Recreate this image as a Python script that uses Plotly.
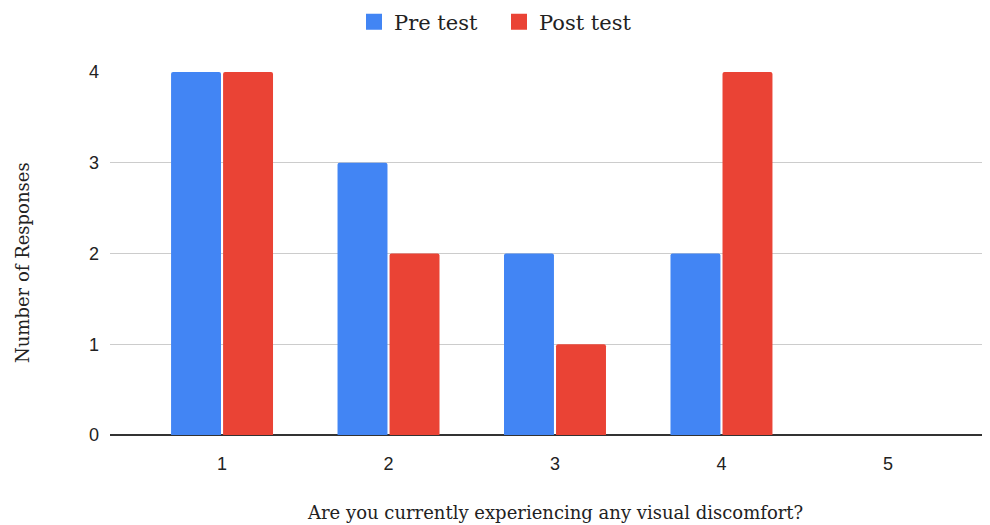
import plotly.graph_objects as go

categories = [1, 2, 3, 4, 5]
pre_test = [4, 3, 2, 2, 0]
post_test = [4, 2, 1, 4, 0]
y_ticks = [0, 1, 2, 3, 4]
series_names = ["Pre test", "Post test"]
series_colors = ["#4285F4", "#EA4335"]
x_title = "Are you currently experiencing any visual discomfort?"
y_title = "Number of Responses"

serif = "DejaVu Serif"
sans = "Liberation Sans"

fig = go.Figure()
for name, vals, col in zip(series_names, [pre_test, post_test], series_colors):
    fig.add_trace(go.Bar(x=categories, y=vals, name=name, showlegend=False,
                         marker=dict(color=col, line=dict(width=0))))
for name, col in zip(series_names, series_colors):
    fig.add_trace(go.Scatter(x=[None], y=[None], name=name, mode="markers",
                             marker=dict(symbol="square", size=18, color=col)))

# page body has an 8px margin: figure is shrunk and shifted accordingly
fig.update_layout(
    width=982, height=517,
    margin=dict(l=102, r=0, t=64, b=90, autoexpand=False),
    paper_bgcolor="white", plot_bgcolor="white",
    barmode="group", bargap=0.375, bargroupgap=0.04,
    barcornerradius=2,
    legend=dict(orientation="h", x=0.5, xref="container", xanchor="center",
                y=1 + (64 - 14) / 363, yref="paper", yanchor="middle",
                font=dict(family=serif, size=21, color="#222222"),
                traceorder="normal", itemsizing="trace", entrywidth=100),
    xaxis=dict(type="linear", range=[0.327, 5.613], tickvals=categories,
               ticktext=[str(c) for c in categories], showgrid=False,
               tickfont=dict(family=sans, size=18, color="#222222"),
               ticks="", ticklabelstandoff=16, zeroline=False),
    yaxis=dict(range=[0, 4], tickvals=y_ticks, showgrid=True, gridcolor="#CCCCCC",
               gridwidth=1, zeroline=True, zerolinecolor="#333333", zerolinewidth=1.5,
               tickfont=dict(family=sans, size=18, color="#222222"), ticks="",
               ticklabelstandoff=10),
    annotations=[
        dict(text=x_title, xref="paper", yref="paper", x=(555 - 110) / 880,
             y=-(512 - 435) / 363, xanchor="center", yanchor="middle", showarrow=False,
             font=dict(family=serif, size=18, color="#222222")),
        dict(text=y_title, xref="paper", yref="paper", x=-(110 - 22) / 880,
             y=(435 - 263) / 363, xanchor="center", yanchor="middle", showarrow=False,
             textangle=-90, font=dict(family=serif, size=18, color="#222222")),
    ],
)

fig.write_html("out.html")
